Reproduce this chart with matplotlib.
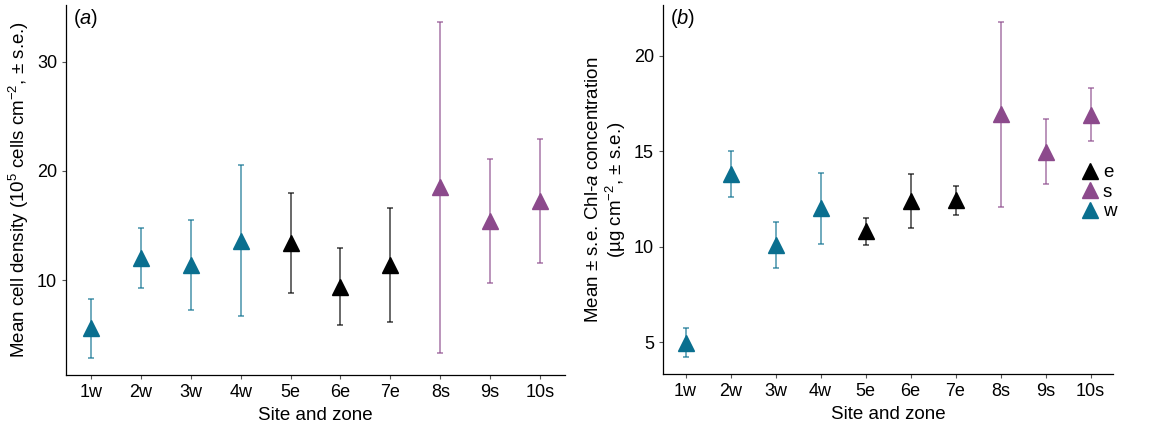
import matplotlib.pyplot as plt
import numpy as np

plt.rcParams['font.family'] = ['Liberation Sans', 'DejaVu Sans']
plt.rcParams['mathtext.fontset'] = 'custom'
plt.rcParams['mathtext.rm'] = 'Liberation Sans'
plt.rcParams['mathtext.it'] = 'Liberation Sans:italic'

sites = ['1w', '2w', '3w', '4w', '5e', '6e', '7e', '8s', '9s', '10s']
zones = ['w', 'w', 'w', 'w', 'e', 'e', 'e', 's', 's', 's']

# (a) cell density, 10^5 cells cm-2
cell_mean = [5.6, 12.0, 11.4, 13.6, 13.4, 9.4, 11.4, 18.5, 15.4, 17.25]
cell_se = [2.7, 2.75, 4.1, 6.9, 4.55, 3.56, 5.23, 15.15, 5.7, 5.66]

# (b) Chl-a concentration, ug cm-2
chl_mean = [4.98, 13.8, 10.07, 12.0, 10.8, 12.4, 12.42, 16.93, 14.96, 16.91]
chl_se = [0.76, 1.22, 1.2, 1.84, 0.72, 1.43, 0.78, 4.85, 1.7, 1.4]

colours = {'e': '#000000', 's': '#8C4A8C', 'w': '#0A6F8F'}

fig = plt.figure(figsize=(11.64, 4.37), dpi=100)
ax1 = fig.add_axes([0.0567, 0.1419, 0.4287, 0.8467])
ax2 = fig.add_axes([0.5696, 0.1442, 0.3866, 0.8444])

x = np.arange(1, len(sites) + 1)


def panel(ax, means, ses, label):
    for xi, m, s, z in zip(x, means, ses, zones):
        c = colours[z]
        ax.errorbar(xi, m, yerr=s, fmt='none', ecolor=c, alpha=0.75,
                    elinewidth=1.1, capsize=2.2, capthick=1.1)
        ax.plot(xi, m, marker='^', color=c, markersize=11, linestyle='none')
    ax.set_xlim(0.5, 10.5)
    ax.set_xticks(x)
    ax.set_xticklabels(sites)
    for sp in ['top', 'right']:
        ax.spines[sp].set_visible(False)
    for sp in ['left', 'bottom']:
        ax.spines[sp].set_linewidth(0.9)
    ax.tick_params(axis='both', labelsize=13, length=3, color='#555555', width=0.8)
    ax.set_xlabel('Site and zone', fontsize=13.5)
    ax.text(0.015, 0.995, label, transform=ax.transAxes, fontsize=14.5,
            ha='left', va='top')


panel(ax1, cell_mean, cell_se, '($\\it{a}$)')
ax1.set_ylim(1.3, 35.2)
ax1.set_yticks([10, 20, 30])
ax1.set_ylabel('Mean cell density (10$^{5}$ cells cm$^{-2}$, ± s.e.)', fontsize=13.5)

panel(ax2, chl_mean, chl_se, '($\\it{b}$)')
ax2.set_ylim(3.34, 22.65)
ax2.set_yticks([5, 10, 15, 20])
ax2.set_ylabel('Mean ± s.e. Chl-$\\it{a}$ concentration\n(µg cm$^{-2}$, ± s.e.)',
               fontsize=13.5, linespacing=1.1)

handles = [plt.Line2D([], [], marker='^', color=colours[k], linestyle='none',
                      markersize=11) for k in ['e', 's', 'w']]
fig.legend(handles, ['e', 's', 'w'], loc='center left',
           bbox_to_anchor=(0.912, 0.56), frameon=False, fontsize=13.5,
           handletextpad=0.1, labelspacing=0.12, handlelength=1.2)

fig.savefig('out.png', dpi=100)
